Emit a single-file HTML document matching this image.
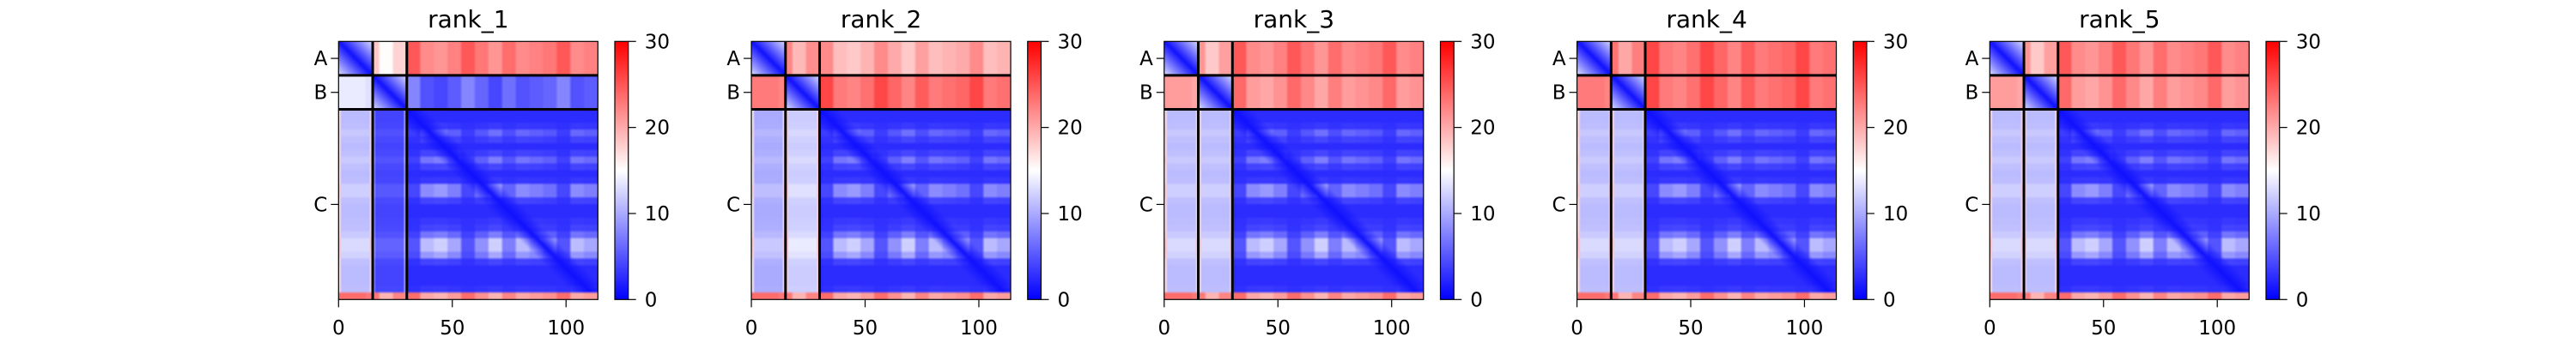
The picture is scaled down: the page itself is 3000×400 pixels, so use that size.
<!DOCTYPE html>
<html><head><meta charset="utf-8"><style>
html,body{margin:0;padding:0;background:#fff;}
#wrap{position:relative;width:3000px;height:400px;overflow:hidden;}
canvas{position:absolute;}
svg{position:absolute;left:0;top:0;}
text{font-family:"DejaVu Sans","Liberation Sans",sans-serif;fill:#000;}
</style></head><body>
<div id="wrap">
<svg id="ax" width="3000" height="400">
<defs><linearGradient id="bwr" x1="0" y1="1" x2="0" y2="0">
<stop offset="0" stop-color="#0000ff"/><stop offset="0.5" stop-color="#ffffff"/><stop offset="1" stop-color="#ff0000"/>
</linearGradient></defs>
</svg>
</div>
<script>
const L = 114;
const chainLens = [15, 15, 84];
const chainNames = ['A', 'B', 'C'];
const ranks = ['rank_1', 'rank_2', 'rank_3', 'rank_4', 'rank_5'];
const xTicks = [0, 50, 100];
const cbTicks = [0, 10, 20, 30];
// block means (rows A,B,C x cols A,B,C) per rank
const blockRank1 = [2, 18, 24, 13, 2, 7, 11, 4, 2];
const blockRank2 = [2, 22, 21, 22, 2, 25, 10, 12, 2];
const blockRank3 = [2, 21, 24, 20, 2, 23, 11, 11, 2];
const blockRank4 = [2, 23, 25, 22, 2, 25, 11, 11, 2];
const blockRank5 = [2, 21, 24, 20, 2, 23, 11, 11, 2];
const blockMeans = [blockRank1, blockRank2, blockRank3, blockRank4, blockRank5];
// column lightness per 6-residue bin
const colLight = [0.2,0.2,0.3,0.8,0.4, 0.2,0.7,0.8,0.6,0.2,0.5,0.8,0.4,0.7,0.6,0.5,0.2,0.7,0.6];
// row band intensity per 3-residue bin (C rows)
const rowBand = [0,0,0,0,0,0,0,0,0,0, 0,0,1,5,2,0,2,6,2,0,1,8,8,2,0,0,1,2,6,12,12,9,2,0,0,0,1,20];

const X0 = 394.3, PW = 302, Y0 = 48.3, PH = 301, DX = 480.75;
const CBX = 716, CBW = 15.7;
const ax = document.getElementById('ax');
const NS = 'http://www.w3.org/2000/svg';
function mk(tag, attrs, parent){const e=document.createElementNS(NS,tag);for(const k in attrs)e.setAttribute(k,attrs[k]);(parent||ax).appendChild(e);return e;}
function cmap(v){v=Math.max(0,Math.min(30,v))/30;
  if(v<0.5){const t=v/0.5;return [Math.round(255*t),Math.round(255*t),255];}
  const t=(v-0.5)/0.5;return [255,Math.round(255*(1-t)),Math.round(255*(1-t))];}
const starts=[0]; chainLens.forEach((l,i)=>starts.push(starts[i]+l));
function chainOf(i){for(let k=0;k<3;k++) if(i<starts[k+1]) return k; return 2;}
function value(b, r, c){
  const ri=chainOf(r), ci=chainOf(c);
  const cl=colLight[Math.floor(c/6)], rb=rowBand[Math.floor(r/3)];
  const mean=b[ri*3+ci];
  if(r>=111) return 25-7*cl;
  if(ri===ci && ri<2) return 1+Math.abs(r-c)*0.8;
  if(ri<2) return mean+2-6*cl;
  if(ci<2){const edge=(c===starts[ci]||c===starts[ci+1]-1)?6:0;return mean+edge+rb*0.15;}
  const d=Math.abs(r-c);
  return mean-1+Math.min(d,8)*0.2+rb*cl*Math.min(1,d/8);
}
const sx = v => v/L*PW, sy = v => v/L*PH;
ranks.forEach((name, p) => {
  const ox = X0 + p*DX;
  const g = mk('g', {});
  
  
  const off=document.createElement('canvas'); off.width=L; off.height=L;
  const octx=off.getContext('2d'); const img=octx.createImageData(L,L);
  for(let r=0;r<L;r++)for(let c=0;c<L;c++){const col=cmap(value(blockMeans[p],r,c));const k=(r*L+c)*4;img.data[k]=col[0];img.data[k+1]=col[1];img.data[k+2]=col[2];img.data[k+3]=255;}
  octx.putImageData(img,0,0);
  const cv=document.createElement('canvas'); cv.width=PW; cv.height=PH;
  cv.style.left=ox+'px'; cv.style.top=Y0+'px';
  
  
  const ctx=cv.getContext('2d'); ctx.imageSmoothingEnabled=true; ctx.imageSmoothingQuality='high'; ctx.drawImage(off,0,0,PW,PH);
  document.getElementById('wrap').insertBefore(cv, ax);
  [starts[1], starts[2]].forEach(s => {
    const v = mk('line',{x1:ox+sx(s),x2:ox+sx(s),y1:Y0,y2:Y0+PH,stroke:'#000','stroke-width':3},g);
     
    const h = mk('line',{x1:ox,x2:ox+PW,y1:Y0+sy(s),y2:Y0+sy(s),stroke:'#000','stroke-width':3},g);
     
  });
  const fr = mk('rect',{x:ox,y:Y0,width:PW,height:PH,fill:'none',stroke:'#000','stroke-width':1.2},g);
   
  const t = mk('text',{x:ox+PW/2,y:32,'text-anchor':'middle','font-size':28},g); t.textContent=name;
   
  xTicks.forEach(v => {
    const x=ox+sx(v);
    mk('line',{x1:x,x2:x,y1:Y0+PH,y2:Y0+PH+9,stroke:'#000','stroke-width':1.2},g);
    const tl=mk('text',{x:x,y:390,'text-anchor':'middle','font-size':23},g); tl.textContent=v;
     
  });
  chainNames.forEach((n,i) => {
    const y=Y0+sy((starts[i]+starts[i+1])/2);
    mk('line',{x1:ox-9,x2:ox,y1:y,y2:y,stroke:'#000','stroke-width':1.2},g);
    const tl=mk('text',{x:ox-13,y:y+8,'text-anchor':'end','font-size':23},g); tl.textContent=n;
     
  });
  const cbx = CBX + p*DX;
  const cb = mk('rect',{x:cbx,y:Y0,width:CBW,height:PH,fill:'url(#bwr)',stroke:'#000','stroke-width':1.2},g);
   
  cbTicks.forEach(v => {
    const y=Y0+PH-v/30*PH;
    mk('line',{x1:cbx+CBW,x2:cbx+CBW+9,y1:y,y2:y,stroke:'#000','stroke-width':1.2},g);
    const tl=mk('text',{x:cbx+CBW+19,y:y+8,'font-size':23},g); tl.textContent=v;
     
  });
});
</script>
</body></html>
